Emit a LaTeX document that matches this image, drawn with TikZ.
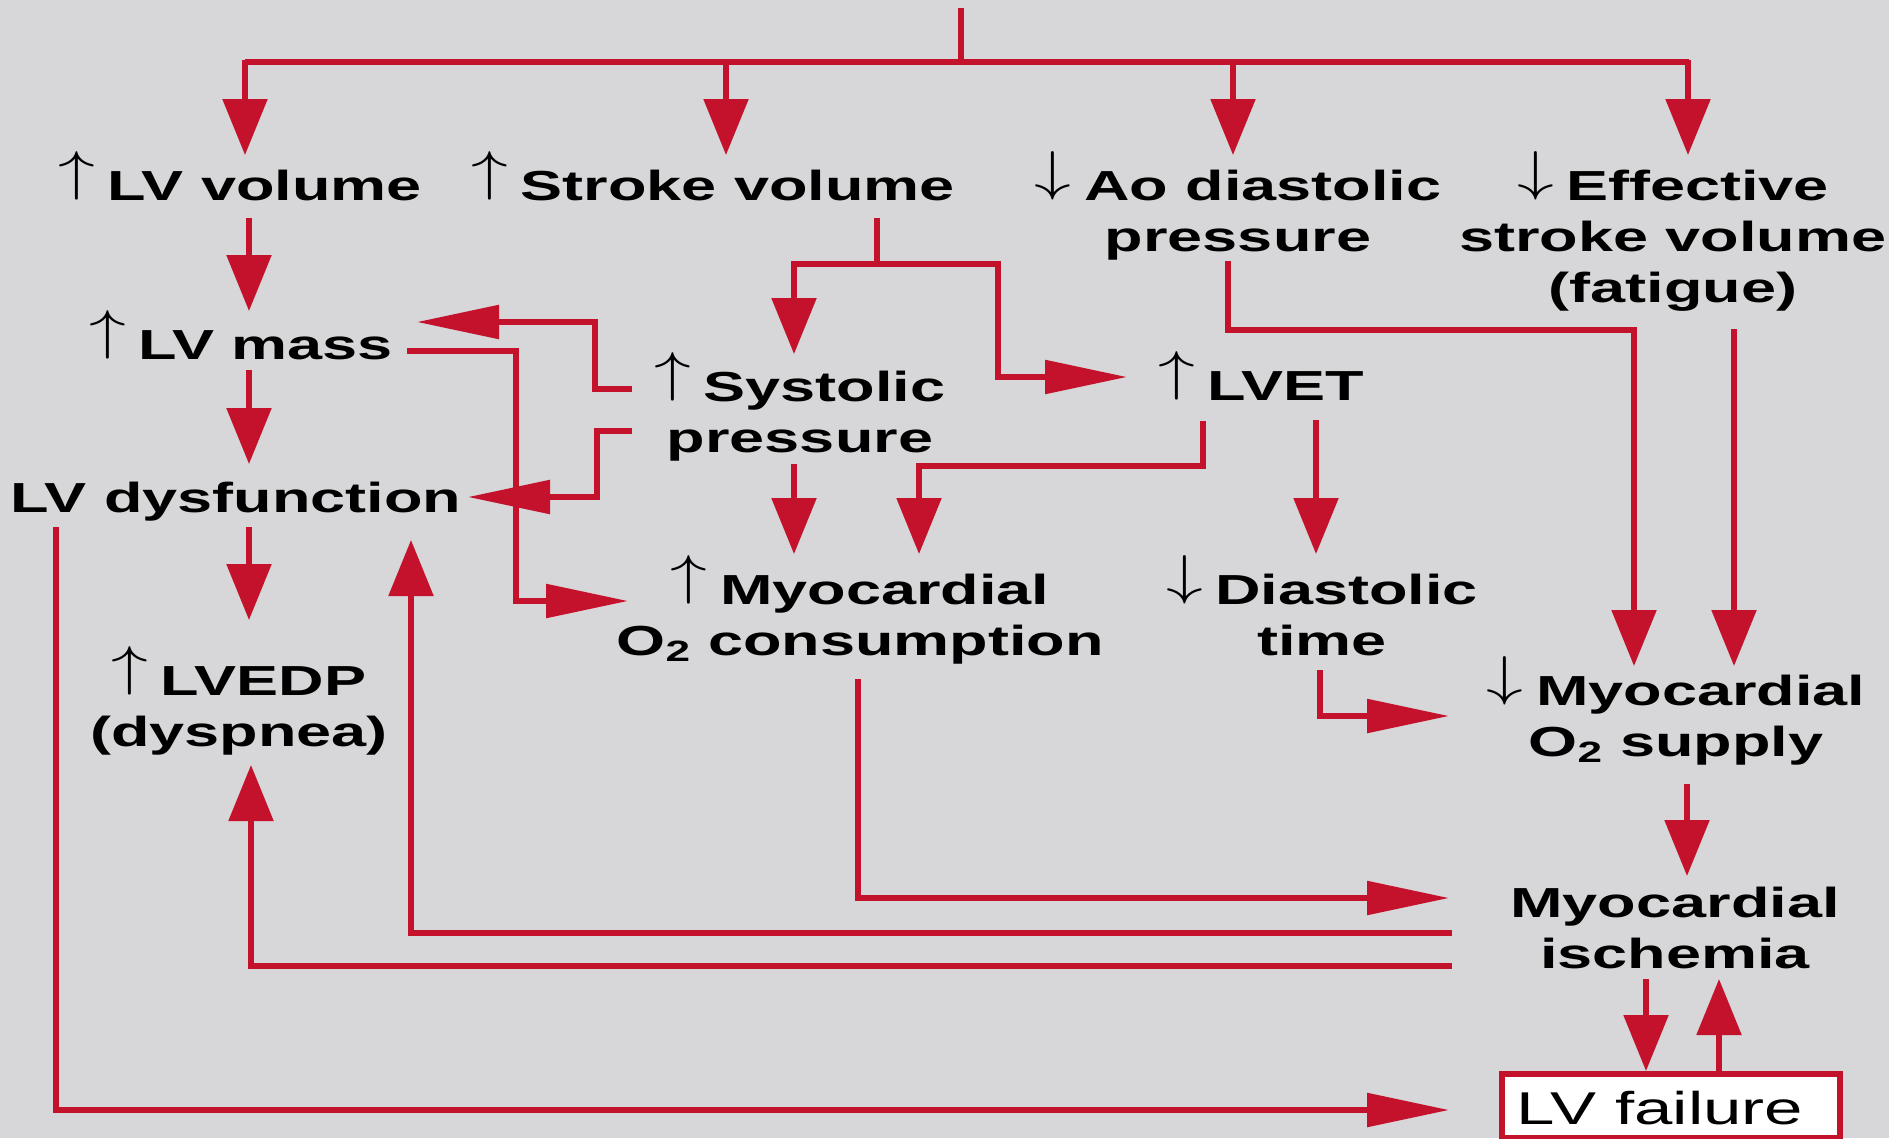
\documentclass[tikz,border=0pt]{standalone}
\usepackage{graphicx}
\usepackage{fontspec}
\setmainfont{Liberation Sans}[FakeStretch=1.5]
\DeclareFontShape{OMS}{cmsy}{m}{n}{<->cmsy10}{}
\usetikzlibrary{arrows.meta}
\definecolor{bgc}{RGB}{215,214,216}
\definecolor{rd}{RGB}{196,18,44}
\newcommand\upar{\raisebox{0.25em}{\scalebox{1.75}[1.3]{$\uparrow$}}\hspace{0.3em}}
\newcommand\dnar{\raisebox{0.25em}{\scalebox{1.75}[1.3]{$\downarrow$}}\hspace{0.3em}}
\tikzset{
  lbl/.style={font=\bfseries\fontsize{42}{51}\selectfont, inner sep=0pt, align=center, text=black, anchor=base},
  wire/.style={draw=rd, line width=5.5pt},
  vhead/.style={wire, -{Triangle[length=56pt,width=44pt]}},
  hhead/.style={wire, -{Triangle[length=82pt,width=33pt]}},
  failbox/.style={draw=rd, line width=5.5pt, fill=white, minimum width=338pt, minimum height=64pt, inner sep=0pt}
}
\begin{document}
\begin{tikzpicture}[x=1pt,y=-1pt]
\useasboundingbox (0,0) rectangle (1889,1138);
\fill[bgc] (0,0) rectangle (1889,1138);

% nodes (base anchor = baseline of last line)
\node[lbl] (lvvol) at (240,200) {\upar LV volume};
\node[lbl] (sv) at (713,200) {\upar Stroke volume};
\node[lbl] (ao) at (1238,251) {\dnar Ao diastolic\\pressure};
\node[lbl] (eff) at (1673,302) {\dnar Effective\\stroke volume\\(fatigue)};
\node[lbl] (lvmass) at (241,359) {\upar LV mass};
\node[lbl] (sys) at (800,452) {\upar Systolic\\pressure};
\node[lbl] (lvet) at (1261,400) {\upar LVET};
\node[lbl] (lvdys) at (236,512) {LV dysfunction};
\node[lbl] (mvo) at (860,655) {\upar Myocardial\\O\textsubscript{2} consumption};
\node[lbl] (dt) at (1322,655) {\dnar Diastolic\\time};
\node[lbl] (lvedp) at (239,746) {\upar LVEDP\\(dyspnea)};
\node[lbl] (mos) at (1676,756) {\dnar Myocardial\\O\textsubscript{2} supply};
\node[lbl] (isch) at (1675,968) {Myocardial\\ischemia};
\node[failbox] (lvf) at (1671,1106) {};
\node[font=\fontsize{46}{52}\selectfont, inner sep=0pt, anchor=base] (lvft) at (1660,1124) {LV failure};

% source
\coordinate (src) at (961,8);
\coordinate (bus) at (961,62);
\draw[wire] (src) -- (bus);
\draw[wire] (245,62) -- (1689,62);
\draw[vhead] (245,60) -- (245,155);
\draw[vhead] (726,62) -- (726,155);
\draw[vhead] (1233,62) -- (1233,155);
\draw[vhead] (1688,60) -- (1688,155);

% left column
\draw[vhead] (249,218) -- (249,311);
\draw[vhead] (249,370) -- (249,464);
\draw[vhead] (249,527) -- (249,620);

% stroke volume branch
\draw[wire] (877,218) -- (877,264);
\draw[vhead] (877,264) -| (794,354);
\draw[hhead] (877,264) -| (998,377) -- (1127,377);

% systolic -> LV mass / LV dysfunction
\draw[hhead] (632,389) -- (595,389) |- (417,322);
\draw[hhead] (632,431) -- (597,431) |- (468,497);

% LV mass -> MVO2
\draw[hhead] (407,351) -| (516,601) -- (628,601);

% systolic -> MVO2, LVET -> MVO2
\draw[vhead] (794,464) -- (794,554);
\draw[vhead] (1203,421) |- (919,466) -- (919,554);

% LVET -> diastolic time
\draw[vhead] (1316,420) -- (1316,554);

% diastolic time -> supply
\draw[hhead] (1320,670) |- (1449,716);

% Ao -> supply, effective -> supply
\draw[vhead] (1228,261) |- (1634,330) -- (1634,666);
\draw[vhead] (1734,329) -- (1734,666);

% supply -> ischemia
\draw[vhead] (1687,784) -- (1687,876);

% MVO2 -> ischemia
\draw[hhead] (858,679) |- (1449,898);

% ischemia -> LV dysfunction, LVEDP
\draw[vhead] (1452,933) -| (411,540);
\draw[vhead] (1452,966) -| (251,765);

% LV dysfunction -> LV failure
\draw[hhead] (56,527) |- (1449,1110);

% ischemia <-> LV failure
\draw[vhead] (1646,979) -- (1646,1071);
\draw[vhead] (1719,1071) -- (1719,979);
\end{tikzpicture}
\end{document}
